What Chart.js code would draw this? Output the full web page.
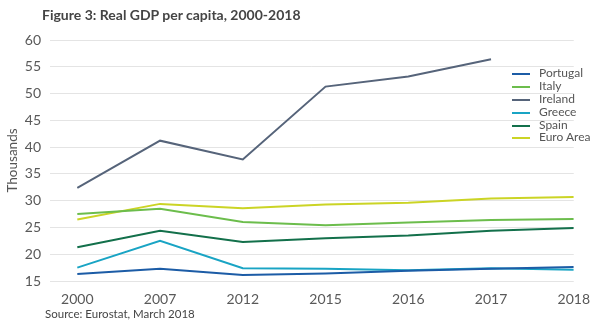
<!DOCTYPE html>
<html>
<head>
<meta charset="utf-8">
<script src="https://cdn.jsdelivr.net/npm/chart.js@4/dist/chart.umd.min.js"></script>
<style>
  body { margin: 0; background: #fff; font-family: Lato, sans-serif; }
  #wrap { position: relative; width: 600px; height: 326px; }
  #title { position: absolute; left: 42px; top: 6px; font-size: 14px; font-weight: bold; color: #444; }
  #source { position: absolute; left: 45px; top: 307px; font-size: 11.5px; color: #444; }
  #legend { position: absolute; left: 512px; top: 67px; font-size: 12px; color: #555; }
  .item { height: 12.9px; line-height: 12.9px; white-space: nowrap; }
  .swatch { display: inline-block; width: 18px; height: 2px; vertical-align: middle; margin-right: 9px; }
</style>
</head>
<body>
<div id="wrap">
  <canvas id="chart" width="600" height="326"></canvas>
  <div id="title">Figure 3: Real GDP per capita, 2000-2018</div>
  <div id="source">Source: Eurostat, March 2018</div>
  <div id="legend"></div>
</div>
<script>
const years = ['2000', '2007', '2012', '2015', '2016', '2017', '2018'];
const portugal = [16.3, 17.3, 16.1, 16.4, 16.9, 17.3, 17.6];
const italy = [27.5, 28.5, 26.0, 25.4, 25.9, 26.4, 26.6];
const ireland = [32.4, 41.2, 37.7, 51.3, 53.2, 56.4, null];
const greece = [17.5, 22.5, 17.4, 17.3, 17.0, 17.4, 17.1];
const spain = [21.3, 24.4, 22.3, 23.0, 23.5, 24.4, 24.9];
const euroArea = [26.5, 29.4, 28.6, 29.3, 29.6, 30.4, 30.7];

const series = [
    { label: 'Portugal', values: portugal, color: '#1c5ca6' },
    { label: 'Italy', values: italy, color: '#6cbd4c' },
    { label: 'Ireland', values: ireland, color: '#56647a' },
    { label: 'Greece', values: greece, color: '#19a4c4' },
    { label: 'Spain', values: spain, color: '#13704b' },
    { label: 'Euro Area', values: euroArea, color: '#cbd425' }
];

const datasets = series.map(s => ({
    label: s.label,
    data: s.values.map((v, i) => ({ x: i, y: v })),
    borderColor: s.color,
    backgroundColor: s.color,
    borderWidth: 2,
    pointRadius: 0,
    tension: 0,
    spanGaps: false
}));

// legend drawn as html, from the same series list
const legendDiv = document.getElementById('legend');
series.forEach(s => {
    const row = document.createElement('div');
    row.className = 'item';
    row.innerHTML = '<span class="swatch" style="background:' + s.color + '"></span>' + s.label;
    legendDiv.appendChild(row);
});

const tickFont = { family: 'Lato', size: 14 };

new Chart(document.getElementById('chart'), {
    type: 'line',
    data: { datasets: datasets },
    options: {
        responsive: false,
        animation: false,
        devicePixelRatio: 1,
        layout: { padding: { left: 0, top: 40, right: 21, bottom: 0 } },
        plugins: {
            legend: { display: false },
            tooltip: { enabled: false }
        },
        scales: {
            x: {
                type: 'linear',
                min: -0.33,
                max: years.length - 1,
                afterBuildTicks: scale => {
                    scale.ticks = years.map((y, i) => ({ value: i }));
                },
                afterFit: scale => { scale.height = 45; },
                grid: { display: false, drawTicks: false },
                border: { display: false },
                ticks: {
                    padding: 10,
                    color: '#595959',
                    font: tickFont,
                    maxRotation: 0,
                    autoSkip: false,
                    callback: v => years[v]
                }
            },
            y: {
                min: 15,
                max: 60,
                afterFit: scale => { scale.width = 50; },
                grid: { color: '#e4e4e4', lineWidth: 1, drawTicks: false },
                border: { display: false },
                ticks: {
                    stepSize: 5,
                    padding: 9,
                    color: '#595959',
                    font: tickFont
                },
                title: {
                    display: true,
                    text: 'Thousands',
                    color: '#555',
                    font: { family: 'Lato', size: 13.5 },
                    padding: { top: 5, bottom: 0 }
                }
            }
        }
    }
});
</script>
</body>
</html>
